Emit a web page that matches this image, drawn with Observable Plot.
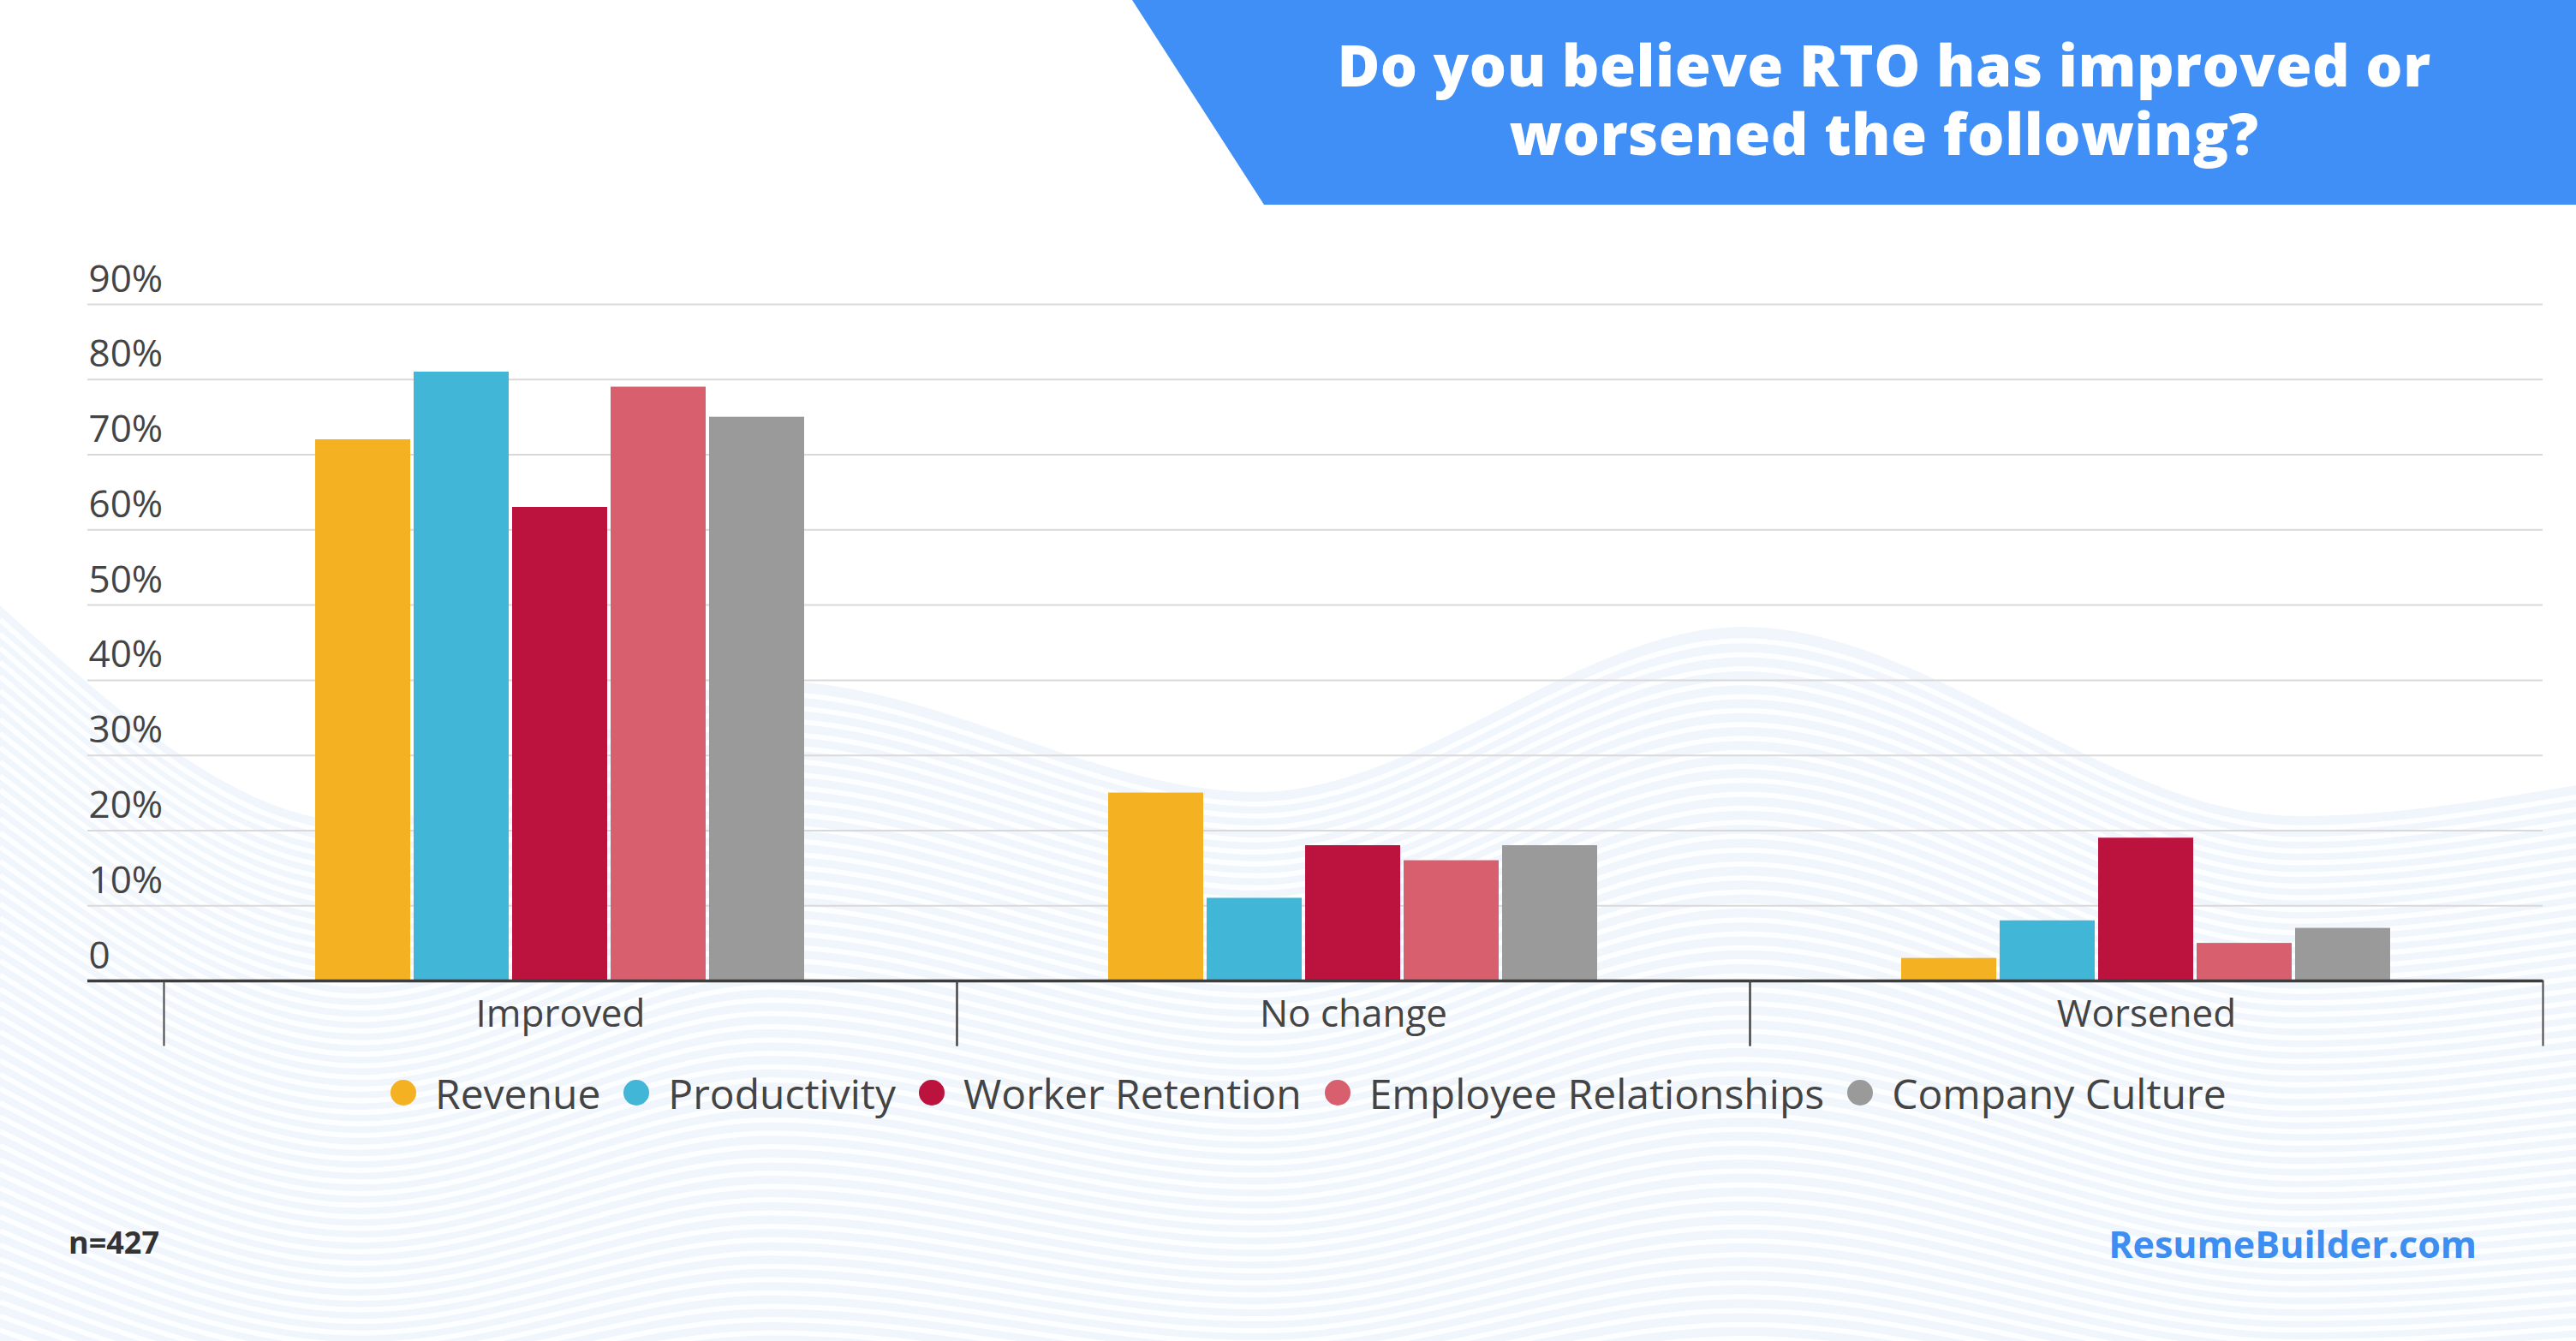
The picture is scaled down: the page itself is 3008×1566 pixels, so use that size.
<!DOCTYPE html>
<html>
<head>
<meta charset="utf-8">
<script src="https://cdn.jsdelivr.net/npm/d3@7"></script>
<script src="https://cdn.jsdelivr.net/npm/@observablehq/plot@0.6"></script>
<style>
  html, body { margin:0; padding:0; background:#fff; }
  #page { position:relative; width:3008px; height:1566px; overflow:hidden; background:#fff; font-family:"Open Sans", sans-serif; }
  #bg { position:absolute; left:0; top:0; }
  #chart { position:absolute; left:0; top:0; }
  #banner { position:absolute; left:0; top:0; width:3008px; height:239px; background:#3F8FF7;
    clip-path: polygon(1322px 0, 3008px 0, 3008px 239px, 1476px 239px); }
  .tline { position:absolute; left:1400px; width:1600px; text-align:center; color:#fff; white-space:nowrap;
    font-family:"Open Sans", sans-serif; font-weight:800; font-size:68px; letter-spacing:0.5px; line-height:68px; height:68px; }
  #t1 { top:41px; }
  #t2 { top:121px; }
  #legend { position:absolute; left:456px; top:1246px; height:60px; display:flex; align-items:center; color:#444; font-size:48px; }
  .item { display:flex; align-items:center; margin-right:27px; white-space:nowrap; }
  .dot { width:30px; height:30px; border-radius:50%; margin-right:22px; }
  #note { position:absolute; left:80px; top:1433px; font-size:36px; font-weight:700; color:#333; line-height:1; }
  #brand { position:absolute; right:116px; top:1431px; font-size:43px; font-weight:700; color:#3D8EF0; line-height:1; }
</style>
</head>
<body>
<div id="page">
  <svg id="bg" width="3008" height="1566"></svg>
  <div id="chart"></div>
  <div id="banner"></div>
  <div class="tline" id="t1">Do you believe RTO has improved or</div>
  <div class="tline" id="t2">worsened the following?</div>
  <div id="legend"></div>
  <div id="note">n=427</div>
  <div id="brand">ResumeBuilder.com</div>
</div>
<script>
// ---- data ----
const categories = ["Improved", "No change", "Worsened"];
const series = ["Revenue", "Productivity", "Worker Retention", "Employee Relationships", "Company Culture"];
const colors = ["#F4B223", "#41B6D6", "#BB133E", "#D85F6E", "#9A9A9A"];
const improved = [72, 81, 63, 79, 75];
const noChange = [25, 11, 18, 16, 18];
const worsened = [3, 8, 19, 5, 7];
const yTicks = [0, 10, 20, 30, 40, 50, 60, 70, 80, 90];

const valuesByCategory = [improved, noChange, worsened];
const data = categories.flatMap((c, i) => series.map((s, j) => ({category: c, series: s, value: valuesByCategory[i][j]})));

// ---- decorative background waves ----
const waveTop = [[0,707],[420,960],[900,795],[1468,925],[2035,732],[2683,953],[3008,917]];
(function drawBg(){
  const svg = d3.select("#bg");
  const line = d3.line().curve(d3.curveMonotoneX);
  const area = d3.area().curve(d3.curveMonotoneX).y1(d => d[1]).y0(1566);
  svg.append("path").attr("d", area(waveTop)).attr("fill", "#F1F6FD");
  for (let k = 1; k < 60; k++) {
    const damp = Math.max(0.35, 1 - k * 0.012);
    const pts = waveTop.map(([x, y]) => [x, 840 + (y - 840) * damp + k * 15]);
    svg.append("path").attr("d", line(pts)).attr("fill", "none").attr("stroke", "#fff").attr("stroke-width", 6).attr("opacity", 0.85);
  }
})();

// ---- chart ----
const chart = Plot.plot({
  width: 3008,
  height: 1566,
  marginLeft: 191,
  marginRight: 39,
  marginTop: 355,
  marginBottom: 421,
  style: {background: "transparent", fontFamily: "'Open Sans', sans-serif", overflow: "visible"},
  fx: {domain: categories, padding: 0, label: null},
  x: {domain: series, paddingInner: 0.033, paddingOuter: 1.532, axis: null},
  y: {domain: [0, 90], axis: null},
  color: {domain: series, range: colors},
  marks: [
    Plot.gridY(yTicks, {stroke: "#d9d9d9", strokeOpacity: 1, strokeWidth: 2}),
    Plot.axisY(yTicks, {anchor: "left", tickSize: 89, fill: "none", stroke: "#d9d9d9", strokeWidth: 2, label: null}),
    Plot.axisY(yTicks, {anchor: "left", tickSize: 0, tickPadding: 88, textAnchor: "start", dy: -29, fontSize: 44, fill: "#444",
      tickFormat: d => d === 0 ? "0" : d + "%", label: null}),
    Plot.barY(data, {fx: "category", x: "series", y: "value", fill: "series"}),
    Plot.ruleY([0], {stroke: "#3d3d3d", strokeWidth: 3.5}),
    Plot.axisY([0], {anchor: "left", tickSize: 89, fill: "none", stroke: "#3d3d3d", strokeWidth: 3.5, label: null}),
    Plot.frame({anchor: "left", stroke: "#444", strokeWidth: 2, insetTop: 790, insetBottom: -75}),
    Plot.frame({anchor: "right", stroke: "#444", strokeWidth: 2, insetTop: 790, insetBottom: -75}),
    Plot.axisFx({anchor: "bottom", tickSize: 0, tickPadding: 22, fontSize: 44, fill: "#444", label: null})
  ]
});
document.getElementById("chart").appendChild(chart);

// ---- legend ----
const legend = d3.select("#legend");
series.forEach((s, i) => {
  const it = legend.append("div").attr("class", "item");
  it.append("div").attr("class", "dot").style("background", colors[i]);
  it.append("span").text(s);
});
</script>
</body>
</html>
